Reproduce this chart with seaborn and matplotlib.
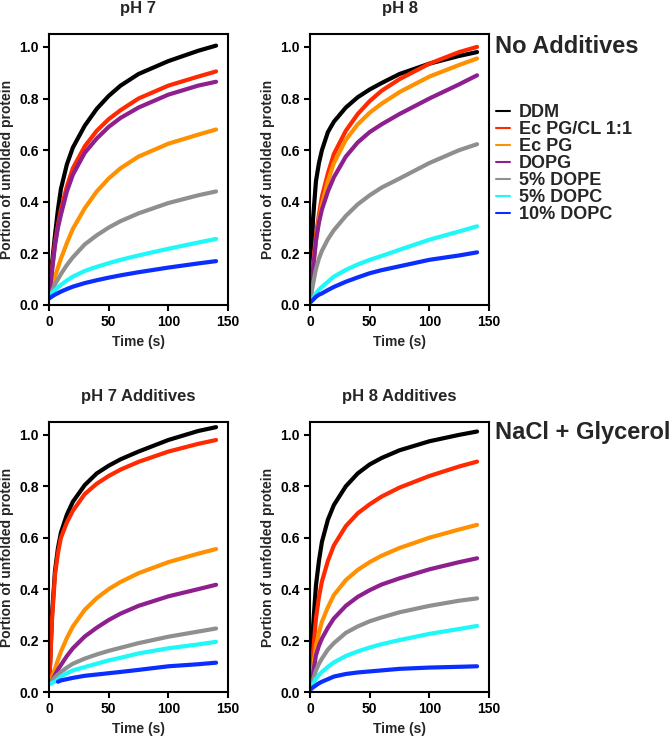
import pandas as pd
import numpy as np
import matplotlib
matplotlib.use('Agg')
import matplotlib.pyplot as plt
import seaborn as sns

# time points (s)
time_s = [0, 1, 2.5, 5, 7.5, 10, 15, 20, 30, 40, 50, 60, 75, 100, 125, 140]

lipids = ["DDM", "Ec PG/CL 1:1", "Ec PG", "DOPG", "5% DOPE", "5% DOPC", "10% DOPC"]
colors = ["#000000", "#FF2A00", "#FF9000", "#8E1F8E", "#8F8F8F", "#1EF8F8", "#0A2EFF"]

# pH 7, no additives
ph7_ddm = [0.03, 0.08, 0.16, 0.27, 0.37, 0.45, 0.545, 0.61, 0.695, 0.76, 0.81, 0.85, 0.895, 0.945, 0.985, 1.005]
ph7_pgcl = [0.03, 0.07, 0.14, 0.24, 0.31, 0.37, 0.46, 0.53, 0.615, 0.675, 0.72, 0.755, 0.80, 0.85, 0.885, 0.905]
ph7_ecpg = [0.03, 0.05, 0.075, 0.11, 0.145, 0.18, 0.24, 0.295, 0.375, 0.44, 0.49, 0.53, 0.575, 0.625, 0.66, 0.68]
ph7_dopg = [0.03, 0.07, 0.13, 0.23, 0.30, 0.35, 0.44, 0.505, 0.59, 0.645, 0.69, 0.725, 0.765, 0.815, 0.85, 0.865]
ph7_dope5 = [0.03, 0.04, 0.055, 0.08, 0.10, 0.12, 0.155, 0.185, 0.235, 0.27, 0.30, 0.325, 0.355, 0.395, 0.425, 0.44]
ph7_dopc5 = [0.03, 0.035, 0.045, 0.058, 0.068, 0.078, 0.095, 0.11, 0.132, 0.148, 0.162, 0.175, 0.192, 0.218, 0.242, 0.256]
ph7_dopc10 = [0.025, 0.028, 0.033, 0.04, 0.046, 0.052, 0.062, 0.071, 0.085, 0.096, 0.106, 0.115, 0.127, 0.145, 0.161, 0.17]

# pH 8, no additives
ph8_ddm = [0.01, 0.15, 0.33, 0.48, 0.55, 0.60, 0.67, 0.71, 0.765, 0.805, 0.835, 0.86, 0.895, 0.935, 0.965, 0.98]
ph8_pgcl = [0.01, 0.06, 0.15, 0.27, 0.35, 0.42, 0.51, 0.585, 0.675, 0.74, 0.79, 0.83, 0.875, 0.935, 0.98, 1.0]
ph8_ecpg = [0.01, 0.06, 0.14, 0.25, 0.33, 0.39, 0.48, 0.55, 0.64, 0.70, 0.745, 0.78, 0.825, 0.885, 0.93, 0.955]
ph8_dopg = [0.01, 0.06, 0.14, 0.25, 0.32, 0.37, 0.44, 0.495, 0.575, 0.63, 0.67, 0.70, 0.74, 0.80, 0.855, 0.89]
ph8_dope5 = [0.01, 0.04, 0.08, 0.14, 0.18, 0.21, 0.255, 0.29, 0.345, 0.39, 0.425, 0.455, 0.49, 0.55, 0.60, 0.623]
ph8_dopc5 = [0.01, 0.015, 0.025, 0.045, 0.06, 0.07, 0.09, 0.11, 0.136, 0.157, 0.175, 0.19, 0.214, 0.253, 0.285, 0.305]
ph8_dopc10 = [0.01, 0.013, 0.02, 0.032, 0.04, 0.045, 0.058, 0.07, 0.09, 0.107, 0.123, 0.135, 0.15, 0.175, 0.192, 0.204]

# pH 7, NaCl + glycerol
ph7a_ddm = [0.03, 0.12, 0.30, 0.47, 0.56, 0.62, 0.69, 0.74, 0.805, 0.85, 0.88, 0.905, 0.935, 0.98, 1.015, 1.03]
ph7a_pgcl = [0.03, 0.11, 0.28, 0.455, 0.54, 0.60, 0.66, 0.705, 0.77, 0.81, 0.84, 0.865, 0.895, 0.935, 0.965, 0.98]
ph7a_ecpg = [0.03, 0.04, 0.06, 0.09, 0.125, 0.157, 0.21, 0.255, 0.32, 0.365, 0.40, 0.428, 0.462, 0.505, 0.538, 0.556]
ph7a_dopg = [0.03, 0.035, 0.045, 0.066, 0.087, 0.105, 0.14, 0.17, 0.216, 0.25, 0.28, 0.305, 0.335, 0.372, 0.40, 0.417]
ph7a_dope5 = [0.03, 0.035, 0.045, 0.058, 0.068, 0.078, 0.095, 0.11, 0.13, 0.146, 0.16, 0.172, 0.19, 0.215, 0.235, 0.247]
ph7a_dopc5 = [0.03, 0.032, 0.035, 0.04, 0.05, 0.06, 0.073, 0.084, 0.097, 0.11, 0.123, 0.133, 0.15, 0.17, 0.185, 0.195]
ph7a_dopc10 = [np.nan, np.nan, np.nan, np.nan, 0.04, 0.045, 0.05, 0.055, 0.063, 0.068, 0.073, 0.078, 0.086, 0.10, 0.108, 0.114]

# pH 8, NaCl + glycerol
ph8a_ddm = [0.01, 0.10, 0.25, 0.415, 0.51, 0.584, 0.67, 0.727, 0.80, 0.85, 0.885, 0.91, 0.94, 0.975, 1.0, 1.013]
ph8a_pgcl = [0.01, 0.06, 0.15, 0.286, 0.37, 0.43, 0.51, 0.57, 0.645, 0.695, 0.73, 0.76, 0.795, 0.84, 0.877, 0.896]
ph8a_ecpg = [0.01, 0.04, 0.09, 0.18, 0.23, 0.273, 0.33, 0.377, 0.435, 0.475, 0.505, 0.53, 0.56, 0.60, 0.632, 0.65]
ph8a_dopg = [0.01, 0.03, 0.07, 0.143, 0.18, 0.208, 0.25, 0.286, 0.335, 0.37, 0.396, 0.418, 0.442, 0.477, 0.505, 0.52]
ph8a_dope5 = [0.01, 0.02, 0.045, 0.084, 0.11, 0.13, 0.165, 0.19, 0.23, 0.255, 0.275, 0.29, 0.31, 0.335, 0.355, 0.364]
ph8a_dopc5 = [0.01, 0.015, 0.03, 0.052, 0.066, 0.078, 0.098, 0.115, 0.14, 0.158, 0.173, 0.186, 0.202, 0.226, 0.245, 0.257]
ph8a_dopc10 = [0.01, 0.012, 0.018, 0.026, 0.034, 0.04, 0.05, 0.06, 0.07, 0.076, 0.08, 0.084, 0.09, 0.095, 0.098, 0.10]

panels = [
    ("pH 7", [ph7_ddm, ph7_pgcl, ph7_ecpg, ph7_dopg, ph7_dope5, ph7_dopc5, ph7_dopc10]),
    ("pH 8", [ph8_ddm, ph8_pgcl, ph8_ecpg, ph8_dopg, ph8_dope5, ph8_dopc5, ph8_dopc10]),
    ("pH 7 Additives", [ph7a_ddm, ph7a_pgcl, ph7a_ecpg, ph7a_dopg, ph7a_dope5, ph7a_dopc5, ph7a_dopc10]),
    ("pH 8 Additives", [ph8a_ddm, ph8a_pgcl, ph8a_ecpg, ph8a_dopg, ph8a_dope5, ph8a_dopc5, ph8a_dopc10]),
]

sns.set_style("ticks")
plt.rcParams['font.family'] = ['Liberation Sans', 'DejaVu Sans']
plt.rcParams['font.weight'] = 'bold'
plt.rcParams['axes.labelweight'] = 'bold'
plt.rcParams['axes.titleweight'] = 'bold'

palette = dict(zip(lipids, colors))

W, H = 672, 739
fig = plt.figure(figsize=(W / 100, H / 100), dpi=100)
# axes boxes in pixels: left, top, right, bottom
boxes = [(49, 34, 228, 305), (310, 34, 489, 305), (49, 422, 228, 692), (310, 422, 489, 692)]

axes = []
for (title, series), (l, t, r, b) in zip(panels, boxes):
    ax = fig.add_axes([l / W, 1 - b / H, (r - l) / W, (b - t) / H])
    rows = []
    for name, vals in zip(lipids, series):
        for tt, v in zip(time_s, vals):
            rows.append({"Time": tt, "Value": v, "Lipid": name})
    df = pd.DataFrame(rows).dropna()
    sns.lineplot(data=df, x="Time", y="Value", hue="Lipid", hue_order=lipids,
                 palette=palette, linewidth=3.0, ax=ax, legend=(title == "pH 8"))
    ax.set_xlim(0, 150)
    ax.set_ylim(0, 1.05)
    ax.set_xticks([0, 50, 100, 150])
    ax.set_yticks([0, 0.2, 0.4, 0.6, 0.8, 1.0])
    ax.set_yticklabels(["%.1f" % v for v in [0, 0.2, 0.4, 0.6, 0.8, 1.0]])
    ax.set_xlabel("Time (s)", fontsize=10)
    ax.set_ylabel("Portion of unfolded protein", fontsize=10)
    ax.set_title(title, fontsize=12, pad=15)
    for sp in ax.spines.values():
        sp.set_visible(True)
        sp.set_linewidth(1.5)
        sp.set_color("black")
    ax.tick_params(axis='both', direction='out', length=4, width=1.5, labelsize=10, colors='black')
    for lab in ax.get_xticklabels() + ax.get_yticklabels():
        lab.set_fontweight('bold')
    axes.append(ax)

handles, labels = axes[1].get_legend_handles_labels()
axes[1].get_legend().remove()
fig.legend(handles, labels, loc='upper left', bbox_to_anchor=(496 / W, 1 - 104 / H),
           frameon=False, handlelength=0.8, handletextpad=0.45,
           labelspacing=0.0, borderpad=0, borderaxespad=0,
           prop={'weight': 'bold', 'size': 13})
for h in fig.legends[0].get_lines():
    h.set_linewidth(1.5)

fig.text(495 / W, 1 - 53 / H, "No Additives", fontsize=17, fontweight='bold', va='baseline')
fig.text(495 / W, 1 - 439 / H, "NaCl + Glycerol", fontsize=17, fontweight='bold', va='baseline')

fig.savefig("out.png", dpi=100)
